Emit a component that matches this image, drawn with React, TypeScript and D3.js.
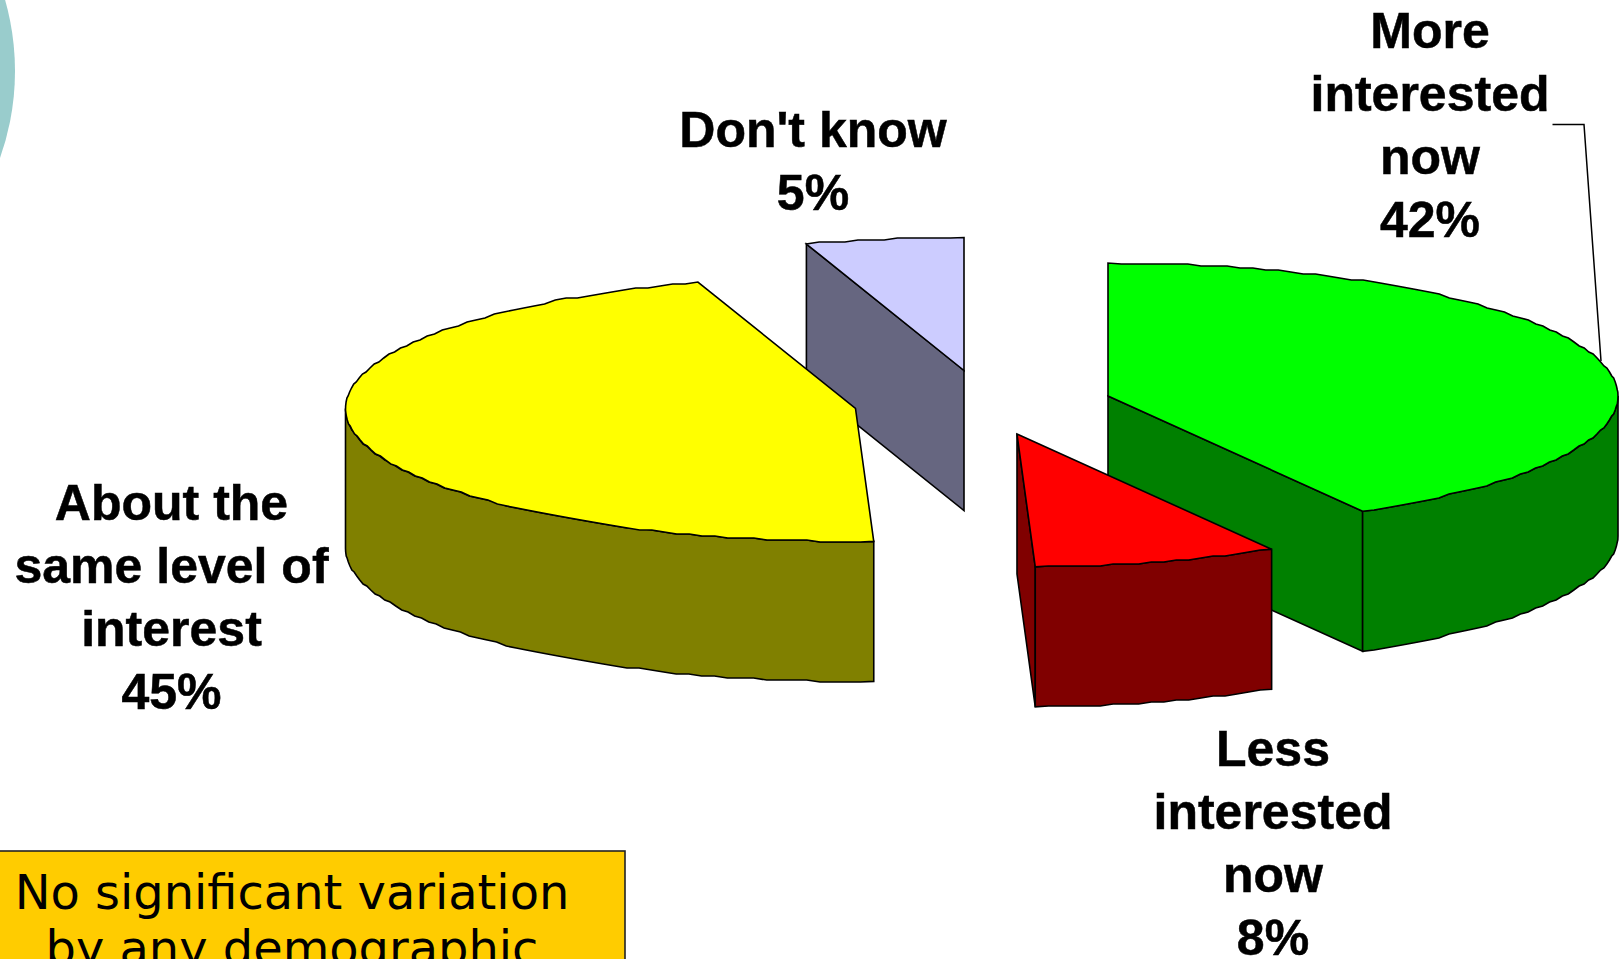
import React from "react";
import * as d3 from "d3";

const sliceNames = ["More interested now", "Less interested now", "About the same level of interest", "Don't know"];
const sliceValues = [41.68, 7.75, 45.57, 5.0];
const topColors = ["#00FF00", "#FF0000", "#FFFF00", "#CCCCFF"];
const wallColors = ["#008000", "#800000", "#808000", "#666680"];
const labelLines = [
  ["More", "interested", "now", "42%"],
  ["Less", "interested", "now", "8%"],
  ["About the", "same level of", "interest", "45%"],
  ["Don't know", "5%"],
];
const noteLines = ["No significant variation", "by any demographic"];

const W = 1619, H = 959;
const RX = 510, RY = 133, DEPTH = 140;
const hubs = [[1108, 396], [1017, 434], [855.5, 408.5], [964, 370.5]];
const labelAnchors = [[1430, 47.5], [1273, 765.5], [171.5, 519.5], [813, 147]];
const drawOrder = [3, 0, 1, 2];

const sx = d3.scaleLinear().domain([-1, 1]).range([-RX, RX]);
const sy = d3.scaleLinear().domain([-1, 1]).range([RY, -RY]);
const pie = d3.pie<number>().sort(null).value((d) => d);
const arcs = pie(sliceValues);
const line = d3.line();

const STEP = (1.5 * Math.PI) / 180;
const GRID = 2;
const snap = (v: number) => Math.round(v / GRID) * GRID;

function rim(hub: number[], a0: number, a1: number) {
  const n = Math.max(1, Math.round((a1 - a0) / STEP));
  const pts = d3.range(n + 1).map((i) => {
    const a = a0 + ((a1 - a0) * i) / n;
    const x = hub[0] + sx(Math.sin(a));
    const y = hub[1] + sy(Math.cos(a));
    return i === 0 || i === n ? [x, y] : [x, snap(y)];
  });
  return pts as [number, number][];
}
const drop = (pts: [number, number][]) => pts.map(([x, y]) => [x, y + DEPTH] as [number, number]);

function Slice({ index }: { index: number }) {
  const arc = arcs[index];
  const hub = hubs[index];
  const a0 = arc.startAngle, a1 = arc.endAngle;
  const top = rim(hub, a0, a1);
  const c: [number, number] = [hub[0], hub[1]];
  const walls: [number, number][][] = [];
  const lo = Math.max(a0, Math.PI / 2), hi = Math.min(a1, (3 * Math.PI) / 2);
  if (Math.sin(a0) < -1e-6) {
    walls.push([c, top[0], [top[0][0], top[0][1] + DEPTH], [c[0], c[1] + DEPTH]]);
  }
  if (Math.sin(a1) > 1e-6) {
    const e = top[top.length - 1];
    walls.push([c, e, [e[0], e[1] + DEPTH], [c[0], c[1] + DEPTH]]);
  }
  if (lo < hi) {
    const r = rim(hub, lo, hi);
    walls.push([...r, ...drop(r).reverse()]);
  }
  return (
    <g stroke="#000" strokeWidth={1.6} strokeLinejoin="miter">
      {walls.map((w, i) => (
        <path key={i} d={line(w) + "Z"} fill={wallColors[index]} />
      ))}
      <path d={line([c, ...top]) + "Z"} fill={topColors[index]} />
    </g>
  );
}

export default function App() {
  return (
    <svg
      width={W}
      height={H}
      viewBox={`0 0 ${W} ${H}`}
      style={{ position: "absolute", left: 0, top: 0, display: "block", background: "#fff" }}
    >
      <circle cx={-245} cy={71} r={260} fill="#99CCCC" />
      {drawOrder.map((i) => (
        <Slice key={sliceNames[i]} index={i} />
      ))}
      <path d={line([[1552.5, 124.5], [1584, 124.5], [1601, 361]]) as string} fill="none" stroke="#000" strokeWidth={1.5} />
      {labelLines.map((lines, i) => (
        <text
          key={i}
          textAnchor="middle"
          fontFamily="'Liberation Sans', Arial, sans-serif"
          fontWeight={700}
          fontSize={50}
          fill="#000"
          stroke="#000"
          strokeWidth={0.5}
        >
          {lines.map((t, j) => (
            <tspan key={j} x={labelAnchors[i][0]} y={labelAnchors[i][1] + j * 63.2}>
              {t}
            </tspan>
          ))}
        </text>
      ))}
      <rect x={-5} y={851} width={630} height={130} fill="#FFCC00" stroke="#222" strokeWidth={1.6} />
      <text textAnchor="middle" fontFamily="'DejaVu Sans', Verdana, sans-serif" fontSize={47.9} fill="#000">
        {noteLines.map((t, j) => (
          <tspan key={j} x={292} y={909 + j * 56}>
            {t}
          </tspan>
        ))}
      </text>
    </svg>
  );
}
